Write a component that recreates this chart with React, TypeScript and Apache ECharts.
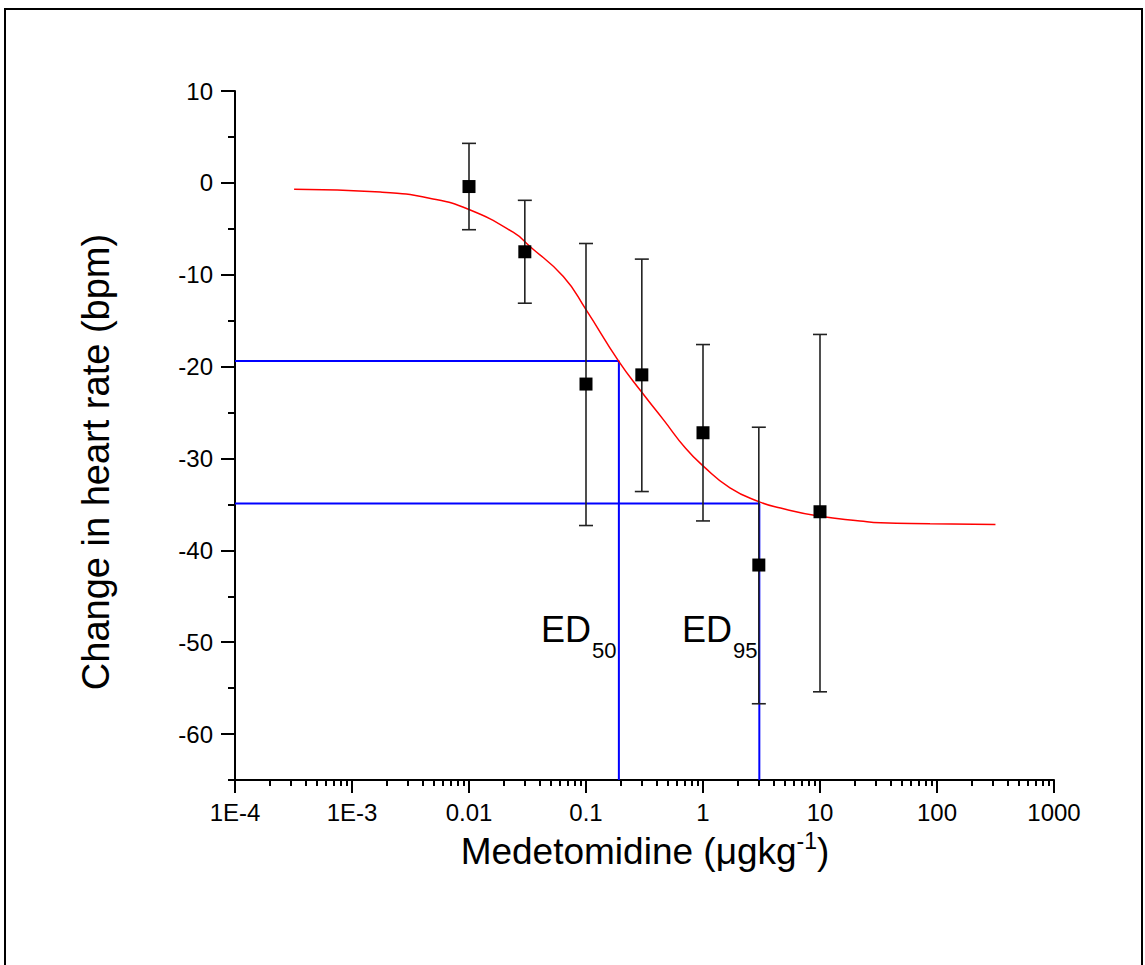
import React, { useEffect, useRef } from "react";
import * as echarts from "echarts";

// ---- data ----
const doses = [0.01, 0.03, 0.1, 0.3, 1, 3, 10];
const meanHR = [-0.4, -7.5, -21.9, -20.9, -27.2, -41.6, -35.8];
const errLow = [-5.1, -13.1, -37.3, -33.6, -36.8, -56.7, -55.4];
const errHigh = [4.3, -1.9, -6.6, -8.3, -17.6, -26.6, -16.5];

const fitX = [3.2e-4, 1.75e-3, 4.7e-3, 0.01, 0.024, 0.033, 0.064, 0.1, 0.19, 0.3, 0.46, 0.71, 1, 1.7, 3, 4.6, 10, 22, 33, 87, 316];
const fitY = [-0.7, -1.0, -1.7, -2.9, -5.4, -6.9, -10.2, -13.8, -19.4, -22.8, -25.8, -28.9, -30.8, -33.2, -34.7, -35.4, -36.3, -36.8, -37.0, -37.1, -37.2];

const ed50Dose = 0.191;
const ed50HR = -19.4;
const ed95Dose = 3.03;
const ed95HR = -34.9;

const xMin = 1e-4;
const xMax = 1000;
const yMin = -65;
const yMax = 10;

const xTickLabels = ["1E-4", "1E-3", "0.01", "0.1", "1", "10", "100", "1000"];
const yMajorTicks = [-60, -50, -40, -30, -20, -10, 0, 10];
const yMinorTicks = [-65, -55, -45, -35, -25, -15, -5, 5];
const minorMultipliers = [2, 3, 4, 5, 6, 7, 8, 9];
const decadeExponents = [-4, -3, -2, -1, 0, 1, 2];

const FONT = "'Liberation Sans', Arial, sans-serif";

export default function App() {
  const ref = useRef<HTMLDivElement>(null);

  useEffect(() => {
    if (!ref.current) return;
    const chart = echarts.init(ref.current, undefined, { renderer: "svg" });

    const xMinorLog: number[] = [];
    decadeExponents.forEach((e) =>
      minorMultipliers.forEach((m) => xMinorLog.push(e + Math.log10(m)))
    );

    const errData = doses.map((d, i) => [d, errLow[i], errHigh[i]]);
    const meanData = doses.map((d, i) => [d, meanHR[i]]);
    const fitData = fitX.map((x, i) => [x, fitY[i]]);

    const axisBlack = { color: "#000", width: 2 };

    chart.setOption({
      animation: false,
      backgroundColor: "#fff",
      grid: { left: 235, right: 91, top: 91, bottom: 185, containLabel: false },
      xAxis: [
        {
          type: "log",
          logBase: 10,
          min: xMin,
          max: xMax,
          interval: 1,
          position: "bottom",
          axisLine: { show: true, onZero: false, lineStyle: axisBlack },
          axisTick: { show: true, length: 13, lineStyle: axisBlack },
          splitLine: { show: false },
          minorTick: { show: false },
          axisLabel: {
            fontFamily: FONT,
            fontSize: 24,
            color: "#000",
            margin: 20,
            formatter: (v: number) => {
              const k = Math.round(Math.log10(v)) + 4;
              return xTickLabels[k] ?? "";
            },
          },
        },
        {
          type: "value",
          min: -4,
          max: 3,
          position: "bottom",
          offset: 0,
          axisLine: { show: false, onZero: false },
          axisTick: { show: true, length: 6, customValues: xMinorLog, lineStyle: axisBlack },
          axisLabel: { show: false },
          splitLine: { show: false },
        },
      ],
      yAxis: [
        {
          type: "value",
          min: yMin,
          max: yMax,
          position: "left",
          axisLine: { show: true, onZero: false, lineStyle: axisBlack },
          axisTick: { show: true, length: 14, customValues: yMajorTicks, lineStyle: axisBlack },
          axisLabel: {
            customValues: yMajorTicks,
            fontFamily: FONT,
            fontSize: 24,
            color: "#000",
            margin: 22,
          },
          splitLine: { show: false },
        },
        {
          type: "value",
          min: yMin,
          max: yMax,
          position: "left",
          offset: 0,
          axisLine: { show: false, onZero: false },
          axisTick: { show: true, length: 7, customValues: yMinorTicks, lineStyle: axisBlack },
          axisLabel: { show: false },
          splitLine: { show: false },
        },
      ],
      series: [
        {
          type: "line",
          name: "ED50",
          xAxisIndex: 0,
          yAxisIndex: 0,
          data: [[xMin, ed50HR], [ed50Dose, ed50HR], [ed50Dose, yMin]],
          symbol: "none",
          lineStyle: { color: "#0000ff", width: 2 },
          z: 2,
        },
        {
          type: "line",
          name: "ED95",
          xAxisIndex: 0,
          yAxisIndex: 0,
          data: [[xMin, ed95HR], [ed95Dose, ed95HR], [ed95Dose, yMin]],
          symbol: "none",
          lineStyle: { color: "#0000ff", width: 2 },
          z: 2,
        },
        {
          type: "line",
          name: "fit",
          xAxisIndex: 0,
          yAxisIndex: 0,
          data: fitData,
          smooth: true,
          symbol: "none",
          lineStyle: { color: "#ff0000", width: 1.5 },
          z: 3,
        },
        {
          type: "custom",
          name: "sd",
          xAxisIndex: 0,
          yAxisIndex: 0,
          data: errData,
          z: 4,
          renderItem: (params: any, api: any) => {
            const x = api.value(0);
            const lo = api.coord([x, api.value(1)]);
            const hi = api.coord([x, api.value(2)]);
            const half = 7;
            const style = { stroke: "#222", lineWidth: 1.6 };
            return {
              type: "group",
              children: [
                { type: "line", shape: { x1: lo[0], y1: lo[1], x2: hi[0], y2: hi[1] }, style },
                { type: "line", shape: { x1: lo[0] - half, y1: lo[1], x2: lo[0] + half, y2: lo[1] }, style },
                { type: "line", shape: { x1: hi[0] - half, y1: hi[1], x2: hi[0] + half, y2: hi[1] }, style },
              ],
            };
          },
        },
        {
          type: "scatter",
          name: "mean",
          xAxisIndex: 0,
          yAxisIndex: 0,
          data: meanData,
          symbol: "rect",
          symbolSize: 13,
          itemStyle: { color: "#000", opacity: 1 },
          z: 5,
        },
      ],
      graphic: [
        {
          type: "rect",
          shape: { x: 5, y: 9, width: 1137, height: 1000 },
          style: { fill: "none", stroke: "#000", lineWidth: 2 },
          silent: true,
          z: 100,
        },
        {
          type: "text",
          x: 645,
          y: 851,
          style: {
            text: "{a|Medetomidine (μgkg}{s|-1}{a|)}",
            align: "center",
            verticalAlign: "middle",
            rich: {
              a: { fontFamily: FONT, fontSize: 37, color: "#000", lineHeight: 44 },
              s: { fontFamily: FONT, fontSize: 23, color: "#000", lineHeight: 44, verticalAlign: "top" },
            },
          },
        },
        {
          type: "text",
          x: 96,
          y: 462,
          rotation: Math.PI / 2,
          style: {
            text: "Change in heart rate (bpm)",
            fontFamily: FONT,
            fontSize: 38,
            fill: "#000",
            align: "center",
            verticalAlign: "middle",
          },
        },
        {
          type: "text",
          x: 541,
          y: 629,
          style: { text: "ED", fontFamily: FONT, fontSize: 36, fill: "#000", align: "left", verticalAlign: "middle" },
        },
        {
          type: "text",
          x: 592,
          y: 650,
          style: { text: "50", fontFamily: FONT, fontSize: 22, fill: "#000", align: "left", verticalAlign: "middle" },
        },
        {
          type: "text",
          x: 682,
          y: 629,
          style: { text: "ED", fontFamily: FONT, fontSize: 36, fill: "#000", align: "left", verticalAlign: "middle" },
        },
        {
          type: "text",
          x: 733,
          y: 650,
          style: { text: "95", fontFamily: FONT, fontSize: 22, fill: "#000", align: "left", verticalAlign: "middle" },
        },
      ],
    });

    return () => chart.dispose();
  }, []);

  return (
    <div
      ref={ref}
      style={{ position: "absolute", left: 0, top: 0, width: 1145, height: 965, background: "#fff" }}
    />
  );
}
